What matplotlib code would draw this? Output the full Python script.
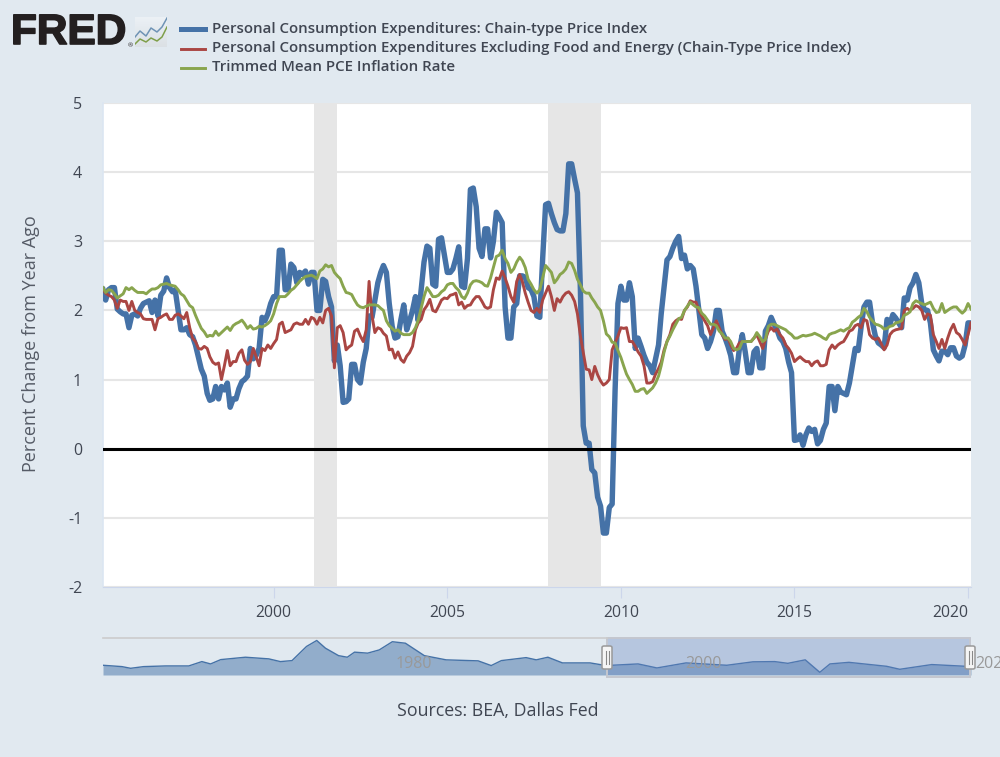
import numpy as np
import pandas as pd
import matplotlib
matplotlib.use("Agg")
import matplotlib.pyplot as plt
import matplotlib.dates as mdates
import matplotlib.patheffects as pe
from matplotlib.patches import FancyBboxPatch, Rectangle
from matplotlib.lines import Line2D

plt.rcParams["font.family"] = ["Open Sans", "DejaVu Sans"]
plt.rcParams["axes.unicode_minus"] = False

# --- monthly series (Feb 1995 - Feb 2020) ---
pce = [
    2.3, 2.15, 2.3, 2.33, 2.33, 2.02, 1.98, 1.95, 1.95, 1.75, 1.93, 1.95,
    1.92, 2.03, 2.1, 2.12, 2.14, 1.97, 2.15, 1.92, 2.22, 2.28, 2.47, 2.33,
    2.27, 2.3, 2.0, 1.72, 1.72, 1.75, 1.65, 1.62, 1.5, 1.32, 1.15, 1.05,
    0.8, 0.7, 0.72, 0.9, 0.72, 0.9, 0.85, 0.95, 0.6, 0.72, 0.72, 0.87,
    0.97, 1.0, 1.05, 1.45, 1.3, 1.35, 1.45, 1.9, 1.85, 1.95, 2.1, 2.2,
    2.2, 2.87, 2.87, 2.3, 2.3, 2.67, 2.62, 2.4, 2.55, 2.52, 2.57, 2.38,
    2.55, 2.55, 2.0, 2.0, 2.45, 2.42, 2.2, 2.05, 1.27, 1.5, 1.2, 0.67,
    0.68, 0.72, 1.22, 1.22, 1.0, 0.95, 1.25, 1.45, 1.92, 1.9, 2.15, 2.4,
    2.55, 2.65, 2.55, 2.1, 1.77, 1.6, 1.62, 1.87, 2.08, 1.72, 1.85, 2.0,
    2.2, 1.85, 2.3, 2.7, 2.93, 2.9, 2.38, 2.35, 3.03, 3.05, 2.8, 2.55,
    2.55, 2.6, 2.75, 2.92, 2.35, 2.33, 2.75, 3.75, 3.77, 3.5, 2.9, 2.78,
    3.18, 3.18, 2.76, 3.0, 3.42, 3.35, 3.27, 2.05, 1.6, 1.6, 2.05, 2.1,
    2.5, 2.5, 2.48, 2.33, 2.3, 2.2, 1.92, 1.9, 2.75, 3.53, 3.55, 3.4,
    3.27, 3.17, 3.15, 3.15, 3.4, 4.12, 4.12, 3.9, 3.7, 2.3, 0.33, 0.08,
    0.08, -0.3, -0.35, -0.7, -0.83, -1.22, -1.22, -0.85, -0.8, 0.85, 2.1, 2.35,
    2.15, 2.15, 2.4, 2.2, 1.45, 1.6, 1.48, 1.35, 1.25, 1.2, 1.1, 1.3,
    1.5, 1.95, 2.35, 2.73, 2.78, 2.9, 3.0, 3.07, 2.75, 2.8, 2.6, 2.65,
    2.6, 2.35, 2.0, 1.65, 1.6, 1.45, 1.55, 1.7, 2.0, 2.0, 1.7, 1.6,
    1.48, 1.35, 1.1, 1.1, 1.45, 1.65, 1.4, 1.1, 1.1, 1.4, 1.45, 1.17,
    1.17, 1.7, 1.78, 1.9, 1.8, 1.72, 1.6, 1.55, 1.45, 1.25, 1.1, 0.12,
    0.13, 0.2, 0.05, 0.2, 0.3, 0.25, 0.28, 0.07, 0.12, 0.28, 0.37, 0.9,
    0.9, 0.55, 0.9, 0.82, 0.8, 0.78, 0.95, 1.2, 1.45, 1.42, 1.75, 2.05,
    2.12, 2.12, 1.82, 1.63, 1.53, 1.5, 1.46, 1.87, 1.8, 1.94, 1.89, 1.82,
    1.75, 2.18, 2.15, 2.33, 2.4, 2.52, 2.4, 2.1, 2.01, 2.0, 1.82, 1.43,
    1.34, 1.27, 1.41, 1.41, 1.36, 1.46, 1.46, 1.34, 1.31, 1.34, 1.5, 1.82,
    1.82,
]
core = [
    2.3, 2.25, 2.22, 2.2, 2.15, 2.03, 2.15, 2.13, 2.13, 2.0, 2.13, 2.0,
    1.97, 1.95, 1.88, 1.87, 1.87, 1.87, 1.72, 1.88, 1.9, 1.93, 1.95, 1.87,
    1.87, 1.93, 1.95, 1.92, 1.88, 1.97, 1.75, 1.6, 1.55, 1.45, 1.44, 1.48,
    1.45, 1.33, 1.25, 1.22, 1.24, 1.0, 1.2, 1.42, 1.2, 1.26, 1.26, 1.38,
    1.43, 1.28, 1.22, 1.26, 1.45, 1.33, 1.2, 1.45, 1.42, 1.5, 1.45, 1.52,
    1.58, 1.8, 1.83, 1.68, 1.7, 1.72, 1.8, 1.82, 1.8, 1.8, 1.87, 1.8,
    1.9, 1.88, 1.8, 1.9, 1.82, 2.0, 2.03, 1.92, 1.17, 1.75, 1.78, 1.68,
    1.43, 1.47, 1.5, 1.7, 1.73, 1.63, 1.55, 1.72, 2.42, 1.92, 1.68, 1.75,
    1.73, 1.67, 1.63, 1.43, 1.44, 1.31, 1.4, 1.29, 1.25, 1.34, 1.39, 1.48,
    1.72, 1.82, 1.87, 2.01, 2.07, 2.16, 2.0, 1.98, 2.06, 2.15, 2.18, 2.17,
    2.22, 2.23, 2.25, 2.08, 2.12, 2.03, 2.07, 2.08, 2.15, 2.2, 2.2, 2.13,
    2.05, 2.03, 2.05, 2.3, 2.47, 2.45, 2.57, 2.47, 2.35, 2.2, 2.12, 2.42,
    2.52, 2.42, 2.25, 2.12, 2.0, 1.97, 2.03, 1.97, 2.15, 2.25, 2.35, 2.2,
    2.0, 2.17, 2.12, 2.2, 2.25, 2.27, 2.22, 2.13, 1.95, 1.63, 1.39, 1.15,
    1.14, 1.0, 1.19, 1.07, 0.98, 0.92, 0.95, 1.0, 1.43, 1.53, 1.63, 1.75,
    1.74, 1.75, 1.55, 1.55, 1.48, 1.4, 1.34, 1.2, 0.95, 0.95, 0.97, 1.08,
    1.16, 1.25, 1.43, 1.55, 1.65, 1.8, 1.85, 1.88, 1.87, 2.0, 2.05, 2.14,
    2.12, 2.12, 2.0, 1.92, 1.85, 1.78, 1.65, 1.75, 1.85, 1.75, 1.65, 1.58,
    1.6, 1.5, 1.42, 1.45, 1.53, 1.55, 1.55, 1.55, 1.55, 1.6, 1.65, 1.55,
    1.45, 1.58, 1.7, 1.75, 1.7, 1.73, 1.65, 1.6, 1.5, 1.45, 1.38, 1.26,
    1.3, 1.33, 1.29, 1.26, 1.26, 1.2, 1.25, 1.27, 1.2, 1.2, 1.22, 1.43,
    1.5, 1.45, 1.5, 1.53, 1.55, 1.62, 1.7, 1.72, 1.78, 1.8, 1.75, 1.87,
    1.85, 1.65, 1.6, 1.58, 1.6, 1.52, 1.43, 1.5, 1.65, 1.7, 1.72, 1.73,
    1.74, 2.0, 2.03, 2.0, 2.03, 2.07, 2.05, 2.0, 1.87, 1.95, 1.93, 1.65,
    1.55, 1.45, 1.58, 1.45, 1.6, 1.72, 1.8, 1.68, 1.65, 1.58, 1.5, 1.65,
    1.82,
]
trimmed = [
    2.33, 2.26, 2.3, 2.29, 2.24, 2.18, 2.21, 2.24, 2.33, 2.3, 2.33, 2.29,
    2.26, 2.26, 2.26, 2.24, 2.28, 2.31, 2.31, 2.33, 2.37, 2.38, 2.39, 2.37,
    2.36, 2.35, 2.3, 2.24, 2.21, 2.14, 2.07, 2.04, 1.93, 1.83, 1.74, 1.69,
    1.62, 1.64, 1.63, 1.7, 1.64, 1.68, 1.72, 1.76, 1.71, 1.78, 1.81, 1.83,
    1.86, 1.81, 1.74, 1.78, 1.73, 1.74, 1.77, 1.76, 1.78, 1.81, 1.85, 1.95,
    2.1, 2.2, 2.2, 2.2, 2.24, 2.29, 2.32, 2.37, 2.42, 2.46, 2.49, 2.5,
    2.51, 2.49, 2.46, 2.57, 2.6, 2.66, 2.63, 2.65, 2.55, 2.5, 2.46, 2.35,
    2.26, 2.25, 2.23, 2.15, 2.08, 2.05, 2.04, 2.06, 2.08, 2.08, 2.08, 2.07,
    2.03, 2.0, 1.85, 1.78, 1.74, 1.7, 1.72, 1.67, 1.65, 1.65, 1.65, 1.68,
    1.75, 1.86, 2.03, 2.2, 2.33, 2.27, 2.2, 2.2, 2.22, 2.27, 2.3, 2.37,
    2.39, 2.39, 2.33, 2.29, 2.2, 2.17, 2.25, 2.37, 2.42, 2.43, 2.42, 2.4,
    2.36, 2.35, 2.47, 2.62, 2.78, 2.8, 2.87, 2.75, 2.68, 2.55, 2.6, 2.7,
    2.77, 2.72, 2.62, 2.45, 2.38, 2.3, 2.25, 2.3, 2.47, 2.65, 2.6, 2.55,
    2.4, 2.45, 2.52, 2.55, 2.6, 2.7, 2.68, 2.58, 2.45, 2.37, 2.28, 2.25,
    2.25, 2.18, 2.12, 2.05, 2.0, 1.85, 1.66, 1.62, 1.54, 1.53, 1.42, 1.32,
    1.19, 1.08, 1.0, 0.93, 0.83, 0.83, 0.86, 0.87, 0.8, 0.84, 0.88, 0.95,
    1.05, 1.2, 1.4, 1.55, 1.63, 1.72, 1.8, 1.88, 1.9, 2.0, 2.06, 2.12,
    2.08, 2.05, 2.04, 1.96, 1.92, 1.86, 1.8, 1.8, 1.78, 1.7, 1.66, 1.6,
    1.6, 1.55, 1.45, 1.43, 1.45, 1.55, 1.55, 1.55, 1.55, 1.6, 1.68, 1.62,
    1.55, 1.58, 1.77, 1.8, 1.8, 1.78, 1.76, 1.74, 1.72, 1.68, 1.65, 1.6,
    1.6, 1.62, 1.64, 1.63, 1.64, 1.65, 1.67, 1.65, 1.63, 1.6, 1.58, 1.65,
    1.67, 1.68, 1.7, 1.72, 1.7, 1.73, 1.75, 1.83, 1.86, 1.9, 1.93, 2.03,
    1.98, 1.9, 1.85, 1.8, 1.79, 1.77, 1.73, 1.74, 1.77, 1.78, 1.82, 1.83,
    1.85, 1.93, 1.95, 1.98, 2.1, 2.14, 2.12, 2.1, 2.08, 2.1, 2.12, 2.03,
    1.97, 1.98, 2.1, 1.97, 2.0, 2.03, 2.05, 2.05, 2.0, 1.96, 2.0, 2.1,
    2.02,
]

# --- navigator series, whole history of the blue line ---
nav_years = [
    1960.4, 1961.7, 1962.3, 1963.2, 1964.7, 1966.3, 1967.2, 1967.8, 1968.5, 1970.2,
    1971.8, 1972.6, 1973.4, 1974.4, 1975.1, 1975.7, 1976.6, 1977.2, 1977.7, 1978.6,
    1979.4, 1980.3, 1981.2, 1982.5, 1984.0, 1986.2, 1987.1, 1987.8, 1989.5, 1990.2,
    1991.0, 1992.0, 1993.9, 1995.0, 1997.2, 1998.5, 2000.5, 2003.3, 2005.1, 2006.6,
    2007.5, 2008.7, 2009.7, 2010.4, 2011.7, 2014.3, 2015.2, 2017.4, 2020.1,
]
nav_values = [
    1.62, 1.08, 0.4, 1.08, 1.35, 1.35, 3.1, 2.16, 3.9, 4.86,
    4.2, 3.1, 3.5, 9.2, 11.6, 8.5, 5.5, 4.86, 6.9, 6.5,
    7.8, 11.1, 10.5, 5.5, 3.8, 3.4, 1.5, 3.5, 4.7, 3.8,
    4.86, 2.57, 2.57, 1.5, 2.16, 0.54, 2.57, 1.62, 3.0, 3.1,
    2.4, 3.8, -1.22, 2.16, 2.8, 1.2, 0.0, 1.9, 1.1,
]

recessions = [("2001-03-01", "2001-11-01"), ("2007-12-01", "2009-06-01")]
y_ticks = [-2, -1, 0, 1, 2, 3, 4, 5]
x_tick_years = [2000, 2005, 2010, 2015, 2020]
legend_labels = [
    "Personal Consumption Expenditures: Chain-type Price Index",
    "Personal Consumption Expenditures Excluding Food and Energy (Chain-Type Price Index)",
    "Trimmed Mean PCE Inflation Rate",
]

BG = "#e1e9f0"
BLUE = "#4572a7"
RED = "#aa4643"
GREEN = "#89a54e"
TEXT = "#404652"
W, H = 1000, 757


def px_axes(fig, left, top, right, bottom):
    return fig.add_axes([left / W, 1 - bottom / H, (right - left) / W, (bottom - top) / H])


def fx(x):
    return x / W


def fy(y):
    return 1 - y / H


fig = plt.figure(figsize=(10, 7.57), dpi=100, facecolor=BG)

# --- main plot ---
ax = px_axes(fig, 103, 103, 971, 587)
dates = pd.date_range("1995-02-01", periods=len(pce), freq="MS")
for start, end in recessions:
    ax.axvspan(pd.Timestamp(start), pd.Timestamp(end), color="#e6e6e6", lw=0, zorder=1)
ax.set_yticks(y_ticks)
ax.grid(axis="y", color="#e6e6e6", lw=1.5, zorder=0)
ax.set_axisbelow(True)
ax.plot(dates, pce, color=BLUE, lw=3.9, zorder=3)
ax.plot(dates, core, color=RED, lw=2.1, zorder=4)
ax.plot(dates, trimmed, color=GREEN, lw=2.1, zorder=5)
ax.axhline(0, color="black", lw=2.2, zorder=6)
ax.set_xlim(dates[0], dates[-1])
ax.set_ylim(-2, 5)
ax.set_xticks([pd.Timestamp(f"{y}-01-01") for y in x_tick_years])
ax.xaxis.set_major_formatter(mdates.DateFormatter("%Y"))
ax.tick_params(axis="x", length=8, width=0.8, color="#ccd6eb", labelcolor=TEXT, labelsize=11.3, pad=5)
ax.tick_params(axis="y", length=0, labelcolor=TEXT, labelsize=11.5, pad=15)
ax.get_xticklabels()[-1].set_horizontalalignment("right")
for s in ["top", "right"]:
    ax.spines[s].set_visible(False)
ax.spines["left"].set_color("#dce6f2")
ax.spines["left"].set_linewidth(1.2)
ax.spines["bottom"].set_color("#ccd6eb")
ax.spines["bottom"].set_linewidth(0.8)
fig.text(fx(31), fy(344), "Percent Change from Year Ago", rotation=90, ha="center", va="center",
         color="#555b66", fontsize=13)

# --- legend ---
for y, color, lw, label, ty in zip([29, 49, 68], [BLUE, RED, GREEN], [3.6, 2.1, 2.1], legend_labels, [29, 48, 67]):
    fig.add_artist(Line2D([fx(181), fx(205)], [fy(y), fy(y)], color=color, lw=lw, transform=fig.transFigure))
    fig.text(fx(212), fy(ty), label, ha="left", va="center", color=TEXT, fontsize=10.8, fontweight="semibold")

# --- FRED logo ---
fig.text(fx(11), fy(33), "FRED", ha="left", va="center", color="#231f20", fontsize=30.5,
         fontweight="black", family=["Liberation Sans", "DejaVu Sans"],
         path_effects=[pe.withStroke(linewidth=1.2, foreground="#231f20")])
fig.text(fx(130), fy(46), "®", ha="center", va="center", color="#231f20", fontsize=4.5)
icon = px_axes(fig, 135, 17, 167, 47)
icon.imshow(np.linspace(0, 1, 30).reshape(-1, 1), cmap="gray", vmin=-4.5, vmax=1.0, aspect="auto",
            extent=[0, 32, 0, 30], origin="lower", alpha=0.35)
icon.plot([0, 5, 11, 16, 22, 27, 32], [10, 16, 11, 19, 15, 20, 29], color="#6f93b5", lw=1.1)
icon.plot([0, 5, 11, 16, 22, 27, 32], [3, 8, 5, 9, 6, 10, 20], color="#7f9f4a", lw=1.1)
icon.set_xlim(0, 32)
icon.set_ylim(0, 30)
icon.axis("off")

# --- navigator ---
nav = px_axes(fig, 103, 638, 971, 675)
nav.set_xlim(1960.4, 2020.1)
nav.set_ylim(-2.3, 12.6)
nav.patch.set_alpha(0)
nav.fill_between(nav_years, nav_values, -2.3, color=BLUE, alpha=0.5, lw=0, zorder=2)
nav.plot(nav_years, nav_values, color=BLUE, lw=1.0, zorder=3)
nav.axvspan(1995.06, 2020.1, color="#6685c2", alpha=0.35, lw=0, zorder=4)
nav.axis("off")
fig.add_artist(Line2D([fx(103), fx(607)], [fy(638), fy(638)], color="#cccccc", lw=1.2))
fig.add_artist(Rectangle((fx(607), fy(677)), (970 - 607) / W, 39 / H, fill=False, ec="#c4c7cf", lw=1.4,
                         transform=fig.transFigure))
for x, label in [(414, "1980"), (704, "2000"), (975, "2020")]:
    fig.text(fx(x), fy(664), label, ha="left" if x == 975 else "center", va="center", color="#999999",
             fontsize=11.5, zorder=5)
for x in [607, 970]:
    fig.add_artist(FancyBboxPatch((fx(x - 5), fy(669)), 10 / W, 23 / H, boxstyle="round,pad=0,rounding_size=0.002",
                                  fc="#f5f5f5", ec="#999999", lw=1.1, transform=fig.transFigure, zorder=6))
    for dx in [-1.5, 1.5]:
        fig.add_artist(Line2D([fx(x + dx), fx(x + dx)], [fy(651), fy(664)], color="#888888", lw=0.8, zorder=7))

fig.text(fx(497.5), fy(711), "Sources: BEA, Dallas Fed", ha="center", va="center", color=TEXT, fontsize=12.8)

fig.savefig("out.png", dpi=100, facecolor=BG)
